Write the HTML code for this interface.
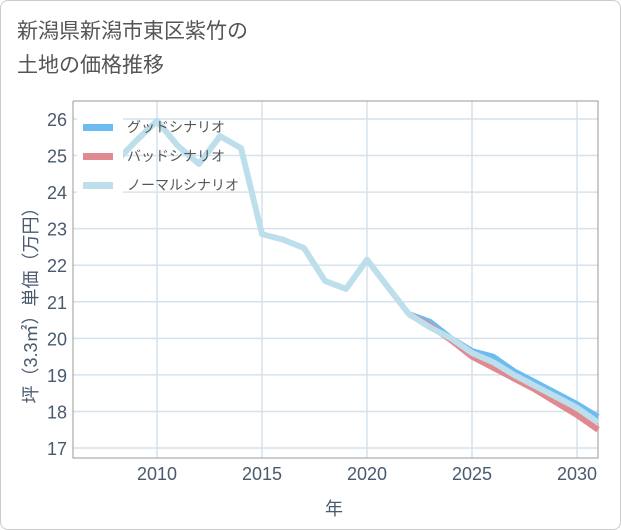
<!DOCTYPE html>
<html><head><meta charset="utf-8"><style>
body{margin:0;background:#fff;}
#wrap{width:619px;height:528px;border:1px solid #ccc;border-radius:8px;position:relative;overflow:hidden;font-family:"Liberation Sans","Noto Sans CJK JP",sans-serif;}
#title{position:absolute;left:16px;top:14px;font-size:21px;line-height:34px;color:#555;}
svg{position:absolute;left:0;top:0}
</style></head><body>
<div id="wrap">
<div id="title">新潟県新潟市東区紫竹の<br>土地の価格推移</div>
<svg id="c" width="621" height="530"></svg>
</div>
<script>
const years=[2008,2009,2010,2011,2012,2013,2014,2015,2016,2017,2018,2019,2020,2021,2022,2023,2024,2025,2026,2027,2028,2029,2030,2031];
const normal=[24.8,25.4,25.95,25.26,24.77,25.53,25.2,22.85,22.7,22.47,21.57,21.35,22.15,21.4,20.66,20.3,20.0,19.6,19.35,19.0,18.7,18.4,18.1,17.7];
const goodYears=[2022,2023,2024,2025,2026,2027,2028,2029,2030,2031];
const good=[20.66,20.45,20.0,19.65,19.5,19.1,18.8,18.5,18.2,17.85];
const bad=[20.66,20.35,19.95,19.5,19.2,18.9,18.6,18.25,17.9,17.5];
const xTicks=[2010,2015,2020,2025,2030];
const yTicks=[17,18,19,20,21,22,23,24,25,26];
const NS='http://www.w3.org/2000/svg',svg=document.getElementById('c');
const L=72,R=597,T=100,B=457;
const x=v=>156+(v-2010)*21;
const y=v=>447-(v-17)*36.56;
function mk(t,a){const e=document.createElementNS(NS,t);for(const k in a)e.setAttribute(k,a[k]);svg.appendChild(e);return e;}
yTicks.forEach(v=>{const g=mk('line',{x1:L,x2:R,y1:y(v),y2:y(v),stroke:'#d6e2ec','stroke-width':1.5});


const t=mk('text',{x:66,y:y(v)+7,'text-anchor':'end','font-size':18,fill:'#4a5a6e'});t.textContent=v;

});
xTicks.forEach(v=>{const g=mk('line',{x1:x(v),x2:x(v),y1:T,y2:B,stroke:'#d6e2ec','stroke-width':1.5});


const t=mk('text',{x:x(v),y:479,'text-anchor':'middle','font-size':18,fill:'#4a5a6e'});t.textContent=v;

});
const ax=mk('path',{d:`M${L},${T}V${B}H${R}V${T}H${L}`,fill:'none',stroke:'#999','stroke-width':1});


const ttl=mk('text',{x:333,y:514,'text-anchor':'middle','font-size':18,fill:'#4a5a6e'});ttl.textContent='年';


const yt=mk('text',{x:0,y:0,'text-anchor':'middle','font-size':18,fill:'#4a5a6e',transform:'translate(36,300) rotate(-90)'});yt.textContent='坪（3.3㎡）単価（万円）';


function line(xs,vs,col,name){const p=mk('polyline',{points:xs.map((v,i)=>x(v)+','+y(vs[i])).join(' '),fill:'none',stroke:col,'stroke-width':6,'stroke-linejoin':'round'});

}
line(goodYears,good,'#6bbcf0','good-scenario-line');
line(goodYears,bad,'#e08a90','bad-scenario-line');
line(years,normal,'#bddfec','normal-scenario-line');
const lb=mk('rect',{x:76,y:108,width:46,height:88,fill:'#fff'});


[['グッドシナリオ','#6bbcf0'],['バッドシナリオ','#e08a90'],['ノーマルシナリオ','#bddfec']].forEach((d,i)=>{
const yy=126+i*29;
const r=mk('rect',{x:82,y:yy-3,width:30,height:7,fill:d[1]});


const t=mk('text',{x:126,y:yy+5,'font-size':14,fill:'#555'});t.textContent=d[0];

});
</script>
</body></html>
